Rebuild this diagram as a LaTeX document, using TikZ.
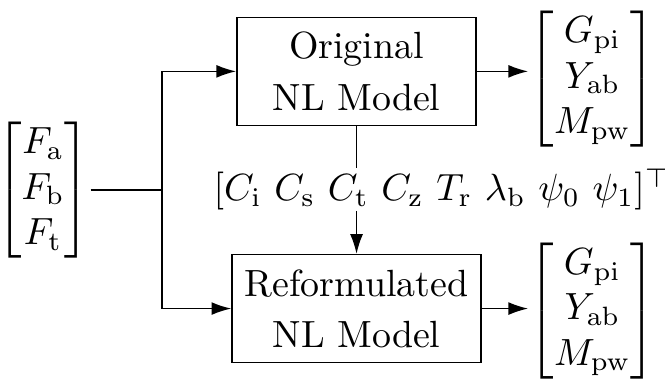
\documentclass[tikz,border=0pt]{standalone}
\usepackage{amsmath}
\usepackage{tikz}
\usetikzlibrary{arrows.meta,positioning,calc}

\begin{document}
\begin{tikzpicture}[
    model/.style={draw, align=center, minimum width=2.22cm, minimum height=1cm},
    vec/.style={inner sep=0pt},
    >={Latex[length=5.2pt,width=3.4pt]}
]
    \useasboundingbox (0,0) rectangle (6.168,3.562);

    % Input vector
    \node[vec] (inVec) at (0.399,1.799) {$\begin{bmatrix} F_\mathrm{a}\\ F_\mathrm{b}\\ F_\mathrm{t} \end{bmatrix}$};
    \coordinate (split) at (1.503,1.799);

    % Models
    \node[model] (orig) at (3.307,2.900) {Original\\[1.5pt]NL Model};
    \node[model] (reform) at (3.307,0.700) {Reformulated\\[1.5pt]NL Model};

    % Output vectors
    \node[vec] (outOrig) at (5.495,2.830) {$\begin{bmatrix} G_\mathrm{pi}\\ Y_\mathrm{ab}\\ M_\mathrm{pw} \end{bmatrix}$};
    \node[vec] (outReform) at (5.495,0.680) {$\begin{bmatrix} G_\mathrm{pi}\\ Y_\mathrm{ab}\\ M_\mathrm{pw} \end{bmatrix}$};

    % Parameter vector
    \node[anchor=base, inner sep=0pt] (params) at (4.100,1.700) {$[C_\mathrm{i}\ C_\mathrm{s}\ C_\mathrm{t}\ C_\mathrm{z}\ T_\mathrm{r}\ \lambda_\mathrm{b}\ \psi_0\ \psi_1]^\top$};

    % Connections
    \draw (inVec) -- (split);
    \draw[->] (split) |- (orig);
    \draw[->] (split) |- (reform);
    \draw[->] (orig) -- (outOrig.west |- orig);
    \draw[->] (reform) -- (outReform.west |- reform);
    \draw (orig) -- (orig |- params.north);
    \draw[->] (orig |- params.south) -- (reform);

\end{tikzpicture}
\end{document}
